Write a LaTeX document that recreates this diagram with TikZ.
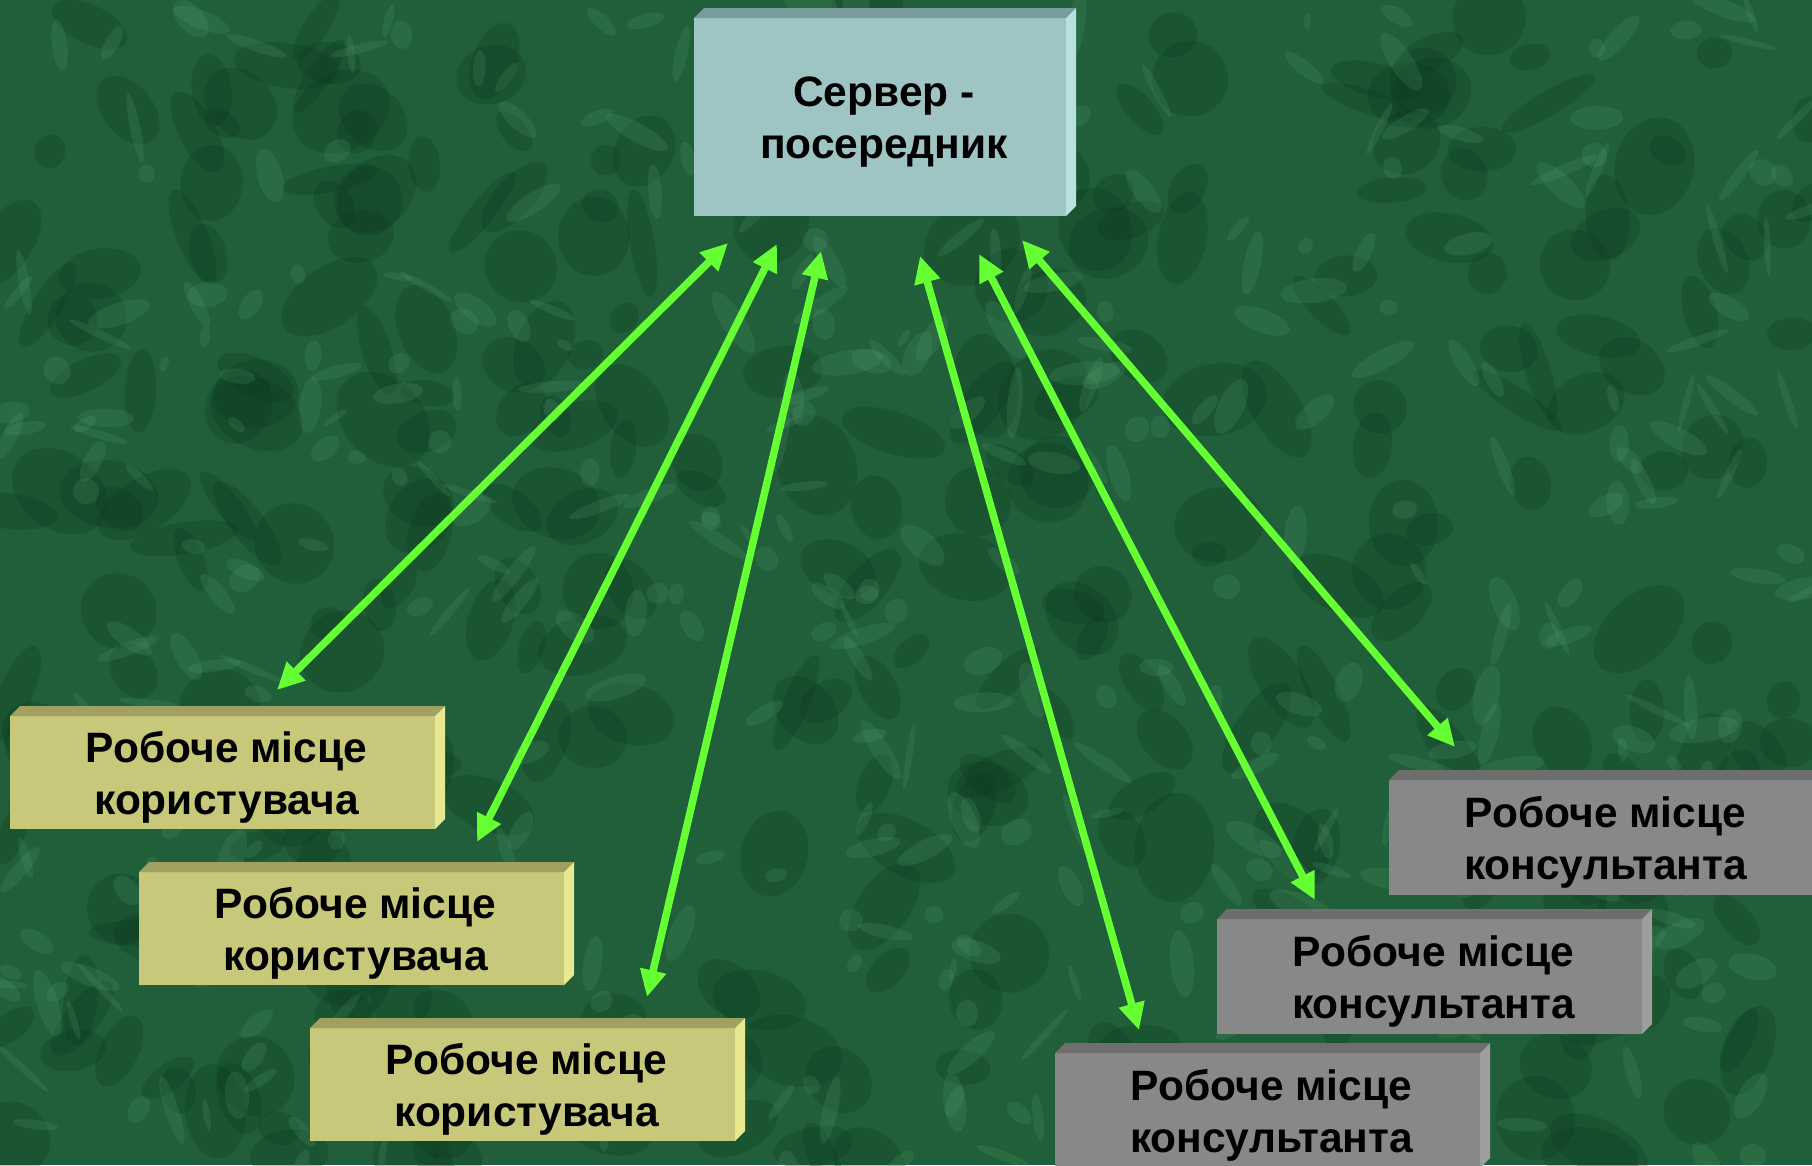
\documentclass[tikz,border=0pt]{standalone}
\usepackage{fontspec}
\setmainfont{Liberation Sans}
\usetikzlibrary{arrows.meta,calc}
\definecolor{bgbase}{RGB}{32,95,57}
\definecolor{bgdark}{RGB}{10,55,28}
\definecolor{bglight}{RGB}{100,175,125}
\definecolor{arrowgreen}{RGB}{102,255,51}
\definecolor{srvfront}{RGB}{158,196,196}
\definecolor{srvtop}{RGB}{122,156,156}
\definecolor{srvside}{RGB}{184,226,226}
\definecolor{usrfront}{RGB}{200,200,122}
\definecolor{usrtop}{RGB}{160,160,96}
\definecolor{usrside}{RGB}{232,232,144}
\definecolor{confront}{RGB}{136,136,136}
\definecolor{contop}{RGB}{110,110,110}
\definecolor{conside}{RGB}{158,158,158}
\newcommand{\bevelbox}[8]{%
  % #1 name, #2 left x, #3 top y (pixels, downwards), #4 width, #5 height, #6 front, #7 colour prefix, #8 text
  \node[bx, fill=#6, minimum width=#4pt, minimum height=#5pt, anchor=north west] (#1) at (#2,-#3) {};
  \fill[#7top] (#1.north west) -- ++(10,10) -- ([shift={(10,10)}]#1.north east) -- (#1.north east) -- cycle;
  \fill[#7side] (#1.north east) -- ++(10,10) -- ([shift={(10,10)}]#1.south east) -- (#1.south east) -- cycle;
  \node[txt] (#1t) at ([shift={(4,-5)}]#1.center) {#8};
}
\begin{document}
\begin{tikzpicture}[x=1pt,y=1pt,
  bx/.style={inner sep=0pt, outer sep=0pt},
  txt/.style={inner sep=0pt, align=center, text=black,
    font=\fontsize{42.5}{52}\selectfont\bfseries},
  link/.style={draw=arrowgreen, line width=7.5pt,
    {Triangle[length=27pt,width=25pt]}-{Triangle[length=27pt,width=25pt]}}]
\useasboundingbox (0,0) rectangle (1812,-1165);
\clip (0,0) rectangle (1812,-1165);
% background
\fill[bgbase] (0,0) rectangle (1812,-1165);
\pgfmathsetseed{4242}
\foreach \i in {1,...,320}{
  \pgfmathsetmacro\bx{rnd*1812}
  \pgfmathsetmacro\by{-rnd*1165}
  \pgfmathsetmacro\br{15+rnd*40}
  \pgfmathsetmacro\bs{12+rnd*30}
  \pgfmathsetmacro\ba{rnd*180}
  \fill[bgdark, opacity=0.25, rotate around={\ba:(\bx,\by)}] (\bx,\by) ellipse [x radius=\br, y radius=\bs];
}
\foreach \i in {1,...,420}{
  \pgfmathsetmacro\bx{rnd*1812}
  \pgfmathsetmacro\by{-rnd*1165}
  \pgfmathsetmacro\br{8+rnd*28}
  \pgfmathsetmacro\bs{3+rnd*10}
  \pgfmathsetmacro\ba{rnd*180}
  \fill[bglight, opacity=0.16, rotate around={\ba:(\bx,\by)}] (\bx,\by) ellipse [x radius=\br, y radius=\bs];
}
% boxes
\bevelbox{srv}{694}{18}{372}{198}{srvfront}{srv}{Сервер -\\посередник}
\bevelbox{u1}{10}{716}{425}{113}{usrfront}{usr}{Робоче місце\\користувача}
\bevelbox{u2}{139}{872}{425}{113}{usrfront}{usr}{Робоче місце\\користувача}
\bevelbox{u3}{310}{1028}{425}{113}{usrfront}{usr}{Робоче місце\\користувача}
\bevelbox{c1}{1389}{780}{425}{115}{confront}{con}{Робоче місце\\консультанта}
\bevelbox{c2}{1217}{919}{425}{115}{confront}{con}{Робоче місце\\консультанта}
\bevelbox{c3}{1055}{1053}{425}{115}{confront}{con}{Робоче місце\\консультанта}
% connectors
\draw[link] ([shift={(-152,-27)}]srv.south) -- ([shift={(54.5,26)}]u1.north);
\draw[link] ([shift={(-103,-28)}]srv.south) -- ([shift={(125.5,30)}]u2.north);
\draw[link] ([shift={(-59,-35)}]srv.south) -- ([shift={(124.5,31)}]u3.north);
\draw[link] ([shift={(40,-40)}]srv.south) -- ([shift={(-128.5,23)}]c3.north);
\draw[link] ([shift={(99,-38)}]srv.south) -- ([shift={(-114.5,19)}]c2.north);
\draw[link] ([shift={(142,-24)}]srv.south) -- ([shift={(-146.5,33)}]c1.north);
\end{tikzpicture}
\end{document}
